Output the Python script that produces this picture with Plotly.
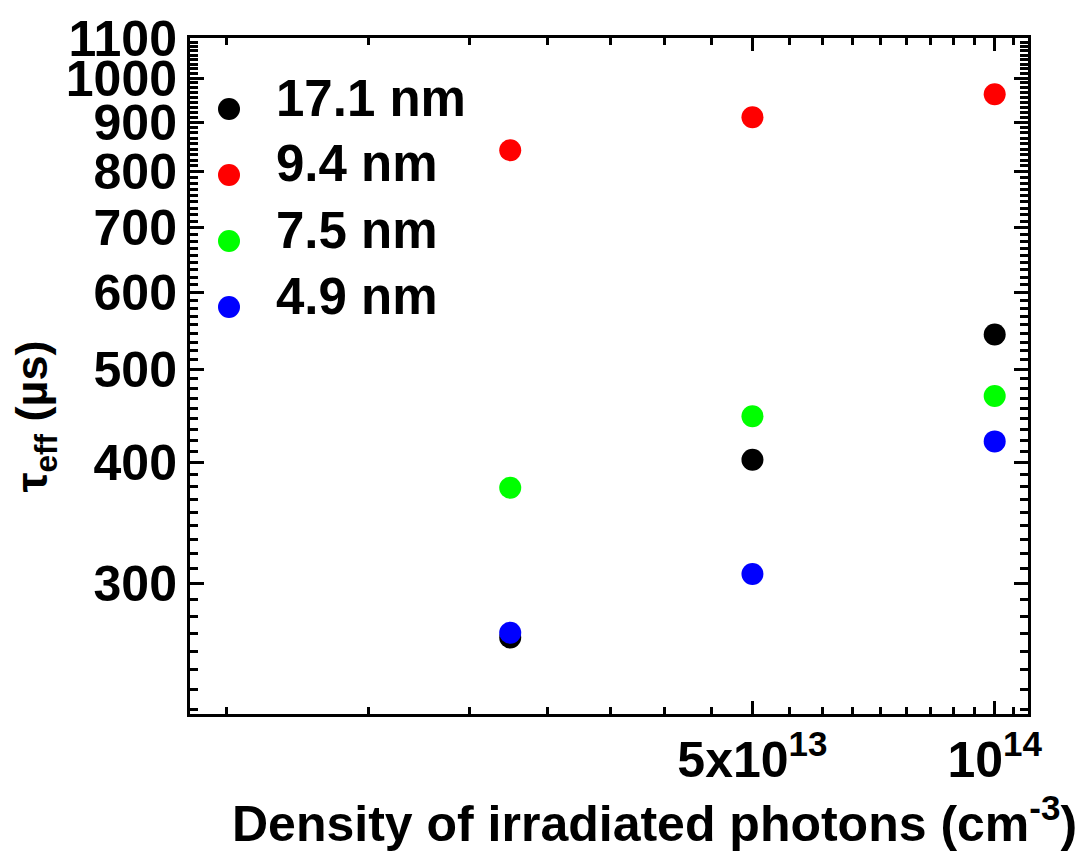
import plotly.graph_objects as go

# Data
x_density = [2.5e13, 5e13, 1e14]
series_names = ["17.1 nm", "9.4 nm", "7.5 nm", "4.9 nm"]
tau_17_1 = [264, 403, 543]
tau_9_4 = [842, 911, 962]
tau_7_5 = [377, 447, 469]
tau_4_9 = [267, 307, 421]
series_colors = ["#000000", "#ff0000", "#00ff00", "#0000ff"]

y_tick_vals = [300, 400, 500, 600, 700, 800, 900, 1000, 1100]
y_tick_text = ["300", "400", "500", "600", "700", "800", "900", "1000", "1100"]
x_tick_vals = [5e13, 1e14]
x_tick_text = ["5x10<sup>13</sup>", "10<sup>14</sup>"]

# minor ticks: 8 minor ticks between major increments (Origin style)
x_minor = [5e13 / 9 * k for k in range(2, 20)]
y_minor = [300 + 100 / 9 * k for k in range(-7, 73)]

FONT = "Liberation Sans, Arial, sans-serif"

# page body has an 8px margin -> figure is sized/placed to compensate
W, H = 1080, 850
ML, MT, PW, PH = 182, 30, 838, 676

fig = go.Figure()
for name, vals, col in zip(series_names, [tau_17_1, tau_9_4, tau_7_5, tau_4_9], series_colors):
    fig.add_trace(go.Scatter(
        x=x_density, y=vals, mode="markers", name=name, showlegend=False,
        marker=dict(color=col, size=22, line=dict(width=0)),
    ))

axis_common = dict(
    showline=True, linecolor="black", linewidth=3, mirror="allticks",
    ticks="inside", tickcolor="black", tickwidth=3,
    showgrid=False, zeroline=False,
    tickfont=dict(family=FONT, size=50, color="black", weight="bold"),
)

fig.update_xaxes(
    type="log", range=[13, 14.0414],
    tickmode="array", tickvals=x_tick_vals, ticktext=x_tick_text,
    ticklen=13,
    minor=dict(tickmode="array", tickvals=x_minor, ticks="inside", ticklen=7,
               tickwidth=2.5, tickcolor="black"),
    **axis_common,
)
fig.update_yaxes(
    type="log", range=[2.3424, 3.0414],
    tickmode="array", tickvals=y_tick_vals, ticktext=y_tick_text,
    ticklen=14,
    minor=dict(tickmode="array", tickvals=y_minor, ticks="inside", ticklen=8,
               tickwidth=2.5, tickcolor="black"),
    **axis_common,
)

# Legend (drawn manually so the symbols can match the 22px data markers)
leg_sym_x = (221 - 182) / PW
leg_txt_x = (266 - 182) / PW
leg_top = 101 - 30
leg_step = 66
for i, (name, col) in enumerate(zip(series_names, series_colors)):
    sy = leg_top + i * leg_step
    py = 1 - sy / PH
    fig.add_shape(
        type="circle", xref="paper", yref="paper",
        xsizemode="pixel", ysizemode="pixel",
        xanchor=leg_sym_x, yanchor=py,
        x0=-11, x1=11, y0=-11, y1=11,
        fillcolor=col, line=dict(width=0),
    )
    fig.add_annotation(
        text=name, xref="paper", yref="paper",
        x=leg_txt_x, y=1 - (sy - 11) / PH, xanchor="left", yanchor="middle",
        showarrow=False,
        font=dict(family=FONT, size=51, color="black", weight="bold"),
    )

fig.add_annotation(
    text="Density of irradiated photons (cm<sup>-3</sup>)",
    xref="paper", yref="paper", x=0.554, y=-0.157, xanchor="center", yanchor="middle",
    showarrow=False, font=dict(family=FONT, size=50, color="black", weight="bold"),
)
fig.add_annotation(
    text="τ<sub>eff</sub> (µs)",
    xref="paper", yref="paper", x=-0.185, y=0.44, xanchor="center", yanchor="middle",
    textangle=-90, showarrow=False,
    font=dict(family=FONT, size=45, color="black", weight="bold"),
)

fig.update_layout(
    width=W, height=H,
    margin=dict(l=ML, r=W - ML - PW, t=MT, b=H - MT - PH, autoexpand=False),
    paper_bgcolor="white", plot_bgcolor="white",
    showlegend=False,
)

fig.write_html("out.html")
